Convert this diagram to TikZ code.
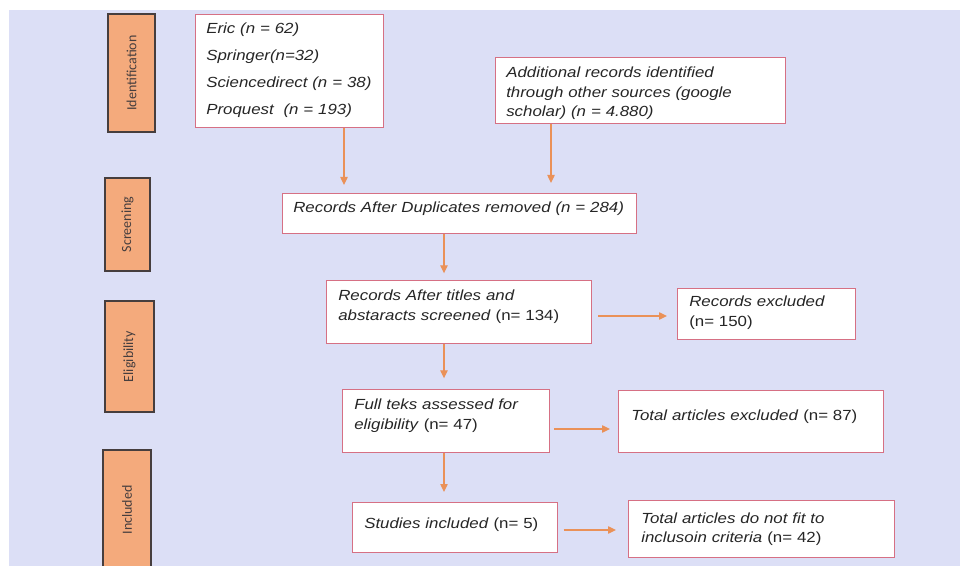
\documentclass[tikz,border=0pt]{standalone}
\usepackage{fontspec}
\setmainfont{Liberation Sans}[FakeStretch=1.15]
\newfontfamily\tagfont{Carlito}
\usetikzlibrary{arrows.meta}
\definecolor{bg}{RGB}{220,223,246}
\definecolor{boxred}{RGB}{214,112,132}
\definecolor{linkorange}{RGB}{234,145,88}
\definecolor{tagfill}{RGB}{244,170,124}
\definecolor{tagline}{RGB}{70,62,62}
\tikzstyle{rec} = [draw=boxred,fill=white,line width=0.9pt,rectangle,inner sep=0,anchor=north west]
\tikzstyle{txt} = [anchor=base west,inner sep=0,text width=300pt,align=left,text=black!85,font=\fontsize{11}{14.6}\selectfont]
\tikzstyle{tag} = [draw=tagline,fill=tagfill,line width=0.9pt,rectangle,rotate=90,inner sep=0,text=tagline,font=\tagfont\fontsize{10.5}{12}\selectfont]
\tikzstyle{link} = [-{Triangle[length=6pt,width=5.5pt]},draw=linkorange,line width=1pt]
\def \u {0.75pt}

\begin{document}
\begin{tikzpicture}[x=\u,y=-\u]
      \useasboundingbox (0,0) rectangle (960,566);
      \fill[bg] (9,10) rectangle (960,566);
      \node[tag,minimum width=118*\u,minimum height=47*\u] (tid) at (131.5,73) {Identification};
      \node[tag,minimum width=93*\u,minimum height=45*\u] (tsc) at (127.5,224.5) {Screening};
      \node[tag,minimum width=111*\u,minimum height=49*\u] (tel) at (129.5,356.5) {Eligibility};
      \node[tag,minimum width=120*\u,minimum height=48*\u] (tin) at (127,510) {Included};
      \node[rec,minimum width=188*\u,minimum height=113*\u] (ids) at (195,14) {};
      \node[rec,minimum width=290*\u,minimum height=66*\u] (other) at (495,57) {};
      \node[rec,minimum width=354*\u,minimum height=40*\u] (dup) at (282,193) {};
      \node[rec,minimum width=265*\u,minimum height=63*\u] (screen) at (326,280) {};
      \node[rec,minimum width=178*\u,minimum height=51*\u] (excl1) at (677,288) {};
      \node[rec,minimum width=207*\u,minimum height=63*\u] (full) at (342,389) {};
      \node[rec,minimum width=265*\u,minimum height=62*\u] (excl2) at (618,390) {};
      \node[rec,minimum width=205*\u,minimum height=50*\u] (incl) at (352,502) {};
      \node[rec,minimum width=266*\u,minimum height=57*\u] (excl3) at (628,500) {};
      \node[txt,font=\fontsize{11}{20.25}\selectfont] (ids-t) at (206,34)
        {\itshape Eric (n = 62)\\Springer(n=32)\\Sciencedirect (n = 38)\\Proquest~ (n = 193)};
      \node[txt] (other-t) at (506,78)
        {\itshape Additional records identified\\through other sources (google\\scholar) (n = 4.880)};
      \node[txt] (dup-t) at (293,213) {\itshape Records After Duplicates removed (n = 284)};
      \node[txt] (screen-t) at (338,301) {\textit{Records After titles and}\\\textit{abstaracts screened} (n= 134)};
      \node[txt] (excl1-t) at (689,307) {\textit{Records excluded}\\(n= 150)};
      \node[txt] (full-t) at (354,410) {\textit{Full teks assessed for}\\\textit{eligibility} (n= 47)};
      \node[txt] (excl2-t) at (631,421) {\textit{Total articles excluded} (n= 87)};
      \node[txt] (incl-t) at (364,528) {\textit{Studies included} (n= 5)};
      \node[txt] (excl3-t) at (641,523) {\textit{Total articles do not fit to}\\\textit{inclusoin criteria} (n= 42)};
      \coordinate (ca) at (344,0);
      \coordinate (cb) at (551,0);
      \coordinate (sp) at (444,0);
      \coordinate (r1) at (0,316);
      \coordinate (r2) at (0,429);
      \coordinate (r3) at (0,530);
      \draw[link,shorten >=6pt] (ids.south -| ca) -- (dup.north -| ca);
      \draw[link,shorten >=7.5pt] (other.south -| cb) -- (dup.north -| cb);
      \draw[link,shorten >=5pt] (dup.south -| sp) -- (screen.north -| sp);
      \draw[link,shorten >=8pt] (screen.south -| sp) -- (full.north -| sp);
      \draw[link,shorten >=7.5pt] (full.south -| sp) -- (incl.north -| sp);
      \draw[link,shorten <=4.5pt,shorten >=7.5pt] (screen.east |- r1) -- (excl1.west |- r1);
      \draw[link,shorten <=3pt,shorten >=6pt] (full.east |- r2) -- (excl2.west |- r2);
      \draw[link,shorten <=4pt,shorten >=9pt] (incl.east |- r3) -- (excl3.west |- r3);
    \end{tikzpicture}
\end{document}
